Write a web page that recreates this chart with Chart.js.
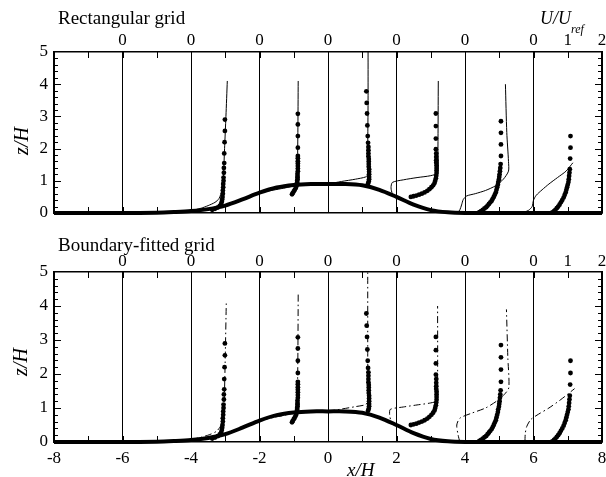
<!DOCTYPE html>
<html>
<head>
<meta charset="utf-8">
<script src="https://cdn.jsdelivr.net/npm/chart.js@4.4.1/dist/chart.umd.min.js"></script>
<style>
  body { margin: 0; background: #fff; }
  #wrap { position: relative; width: 606px; height: 477px; overflow: hidden; font-family: "Liberation Serif", serif; color: #000; }
  canvas { position: absolute; left: 0; }
  .txt { position: absolute; white-space: nowrap; line-height: 1; }
  .it { font-style: italic; }
  .rot { transform: translate(-50%, -50%) rotate(-90deg); }
</style>
</head>
<body>
<div id="wrap">
  <canvas id="rect" width="606" height="240" style="top:0"></canvas>
  <canvas id="bfg" width="606" height="237" style="top:240px"></canvas>
  <div class="txt" style="left:58px;top:8px;font-size:19px">Rectangular grid</div>
  <div class="txt" style="left:58px;top:235px;font-size:19px">Boundary-fitted grid</div>
  <div class="txt it" style="left:540px;top:9px;font-size:18px">U/U<span style="font-size:12px;position:relative;top:9px">ref</span></div>
  <div class="txt it rot" style="left:21px;top:141px;font-size:20px">z/H</div>
  <div class="txt it rot" style="left:20px;top:362px;font-size:20px">z/H</div>
  <div class="txt it" style="left:347px;top:460px;font-size:19px">x/H</div>
</div>
<script>
// profile stations (x/H) - each profile is drawn as x = station + U/Uref
const stations = [-4, -2, 0, 2, 4, 6];

// axis ticks
const xTickVals = [-8, -6, -4, -2, 0, 2, 4, 6, 8];
const uTickVals = [-6, -4, -2, 0, 2, 4, 6, 7, 8];
const uTickText = ['0', '0', '0', '0', '0', '0', '0', '1', '2'];
const zTickVals = [0, 1, 2, 3, 4, 5];

// hill surface
const hillX = [-8, -6, -5, -4.5, -4, -3.5, -3, -2.5, -2, -1.5, -1, -0.5, 0, 0.5, 1, 1.5, 2, 2.5, 3, 3.5, 4, 5, 6, 8];
const hillZ = [0, 0, 0.01, 0.03, 0.06, 0.12, 0.23, 0.42, 0.63, 0.79, 0.87, 0.9, 0.9, 0.9, 0.86, 0.72, 0.5, 0.26, 0.09, 0.02, 0, 0, 0, 0];

// measurements [U/Uref, z/H] (same in both panels)
const expM4 = [[0.62,0.10],[0.70,0.13],[0.78,0.17],[0.84,0.22],[0.88,0.28],[0.90,0.35],[0.91,0.42],[0.92,0.50],[0.93,0.60],[0.93,0.70],[0.94,0.80],[0.94,0.90],[0.95,1.00],[0.95,1.10],[0.96,1.25],[0.96,1.40],[0.97,1.55],[0.97,1.85],[0.98,2.20],[0.99,2.55],[0.99,2.90]];
const expM2 = [[0.95,0.58],[0.97,0.62],[1.00,0.67],[1.03,0.72],[1.06,0.78],[1.08,0.84],[1.09,0.90],[1.10,0.95],[1.10,1.00],[1.11,1.05],[1.11,1.10],[1.11,1.15],[1.11,1.22],[1.12,1.30],[1.12,1.38],[1.12,1.46],[1.12,1.54],[1.12,1.61],[1.12,1.70],[1.12,1.77],[1.12,2.03],[1.12,2.39],[1.12,2.75],[1.12,3.08]];
const exp0 = [[1.17,0.92],[1.19,0.98],[1.20,1.05],[1.20,1.12],[1.20,1.20],[1.20,1.28],[1.20,1.36],[1.19,1.44],[1.19,1.52],[1.19,1.60],[1.19,1.68],[1.18,1.76],[1.18,1.85],[1.18,1.95],[1.18,2.05],[1.17,2.18],[1.16,2.39],[1.15,2.72],[1.14,3.09],[1.13,3.42],[1.12,3.78]];
const exp2 = [[0.42,0.50],[0.50,0.52],[0.58,0.54],[0.66,0.57],[0.74,0.60],[0.82,0.64],[0.90,0.69],[0.96,0.74],[1.02,0.80],[1.07,0.86],[1.11,0.93],[1.13,1.00],[1.15,1.08],[1.16,1.16],[1.17,1.24],[1.17,1.32],[1.17,1.40],[1.17,1.48],[1.16,1.56],[1.16,1.64],[1.16,1.74],[1.16,1.85],[1.15,1.98],[1.15,2.31],[1.15,2.70],[1.15,3.09]];
const exp4 = [[0.42,0.03],[0.47,0.06],[0.52,0.10],[0.57,0.14],[0.62,0.18],[0.66,0.23],[0.70,0.28],[0.74,0.33],[0.78,0.38],[0.81,0.44],[0.84,0.50],[0.87,0.57],[0.90,0.64],[0.92,0.72],[0.94,0.80],[0.96,0.88],[0.97,0.96],[0.99,1.04],[1.00,1.12],[1.01,1.20],[1.02,1.30],[1.03,1.40],[1.04,1.52],[1.05,1.77],[1.05,2.13],[1.05,2.49],[1.05,2.85]];
const exp6 = [[0.55,0.02],[0.60,0.06],[0.64,0.10],[0.68,0.15],[0.72,0.20],[0.76,0.26],[0.80,0.33],[0.84,0.40],[0.88,0.48],[0.91,0.56],[0.94,0.64],[0.96,0.72],[0.98,0.80],[1.00,0.88],[1.02,0.96],[1.03,1.05],[1.04,1.15],[1.05,1.25],[1.06,1.36],[1.07,1.69],[1.08,2.03],[1.08,2.39]];

// computed, rectangular grid [U/Uref, z/H]
const rectM4 = [[0,0.07],[0.3,0.15],[0.5,0.23],[0.7,0.33],[0.82,0.45],[0.9,0.7],[0.94,1.0],[0.98,2.0],[1.02,3.0],[1.06,4.1]];
const rectM2 = [[0.05,0.64],[0.4,0.71],[0.7,0.77],[0.95,0.83],[1.05,0.9],[1.1,1.2],[1.12,2.5],[1.13,4.1]];
const rect0 = [[0,0.9],[0.4,0.98],[0.8,1.05],[1.1,1.12],[1.16,1.2],[1.16,2.0],[1.17,3.5],[1.17,5.0]];
const rect2 = [[0,0.45],[-0.12,0.6],[-0.16,0.78],[-0.12,0.95],[0.2,1.03],[0.6,1.1],[1.0,1.16],[1.2,1.25],[1.21,2.0],[1.22,4.1]];
const rect4 = [[-0.22,0.0],[-0.15,0.1],[-0.1,0.25],[-0.05,0.42],[0.05,0.53],[0.3,0.6],[0.6,0.7],[0.9,0.85],[1.12,1.05],[1.27,1.3],[1.27,1.6],[1.22,2.5],[1.18,4.0]];
const rect6 = [[-0.35,0.0],[-0.15,0.08],[-0.04,0.2],[0.0,0.4],[0.08,0.55],[0.25,0.72],[0.45,0.9],[0.7,1.1],[0.95,1.3],[1.15,1.56]];

// computed, boundary-fitted grid [U/Uref, z/H]
const bfgM4 = [[0,0.07],[0.3,0.14],[0.55,0.22],[0.75,0.32],[0.88,0.5],[0.94,0.8],[0.97,1.2],[1.0,2.5],[1.03,4.1]];
const bfgM2 = [[0.05,0.64],[0.4,0.72],[0.75,0.79],[0.95,0.85],[1.05,0.92],[1.1,1.3],[1.12,2.5],[1.13,4.4]];
const bfg0 = [[0,0.9],[0.4,0.97],[0.8,1.04],[1.1,1.1],[1.16,1.2],[1.16,2.5],[1.16,5.0]];
const bfg2 = [[0,0.45],[-0.15,0.6],[-0.2,0.8],[-0.18,0.96],[0.2,1.03],[0.6,1.09],[1.0,1.15],[1.18,1.22],[1.2,2.0],[1.2,4.0]];
const bfg4 = [[-0.15,0.0],[-0.2,0.2],[-0.24,0.5],[-0.15,0.7],[0.2,0.85],[0.6,1.0],[0.92,1.2],[1.15,1.4],[1.28,1.6],[1.25,2.5],[1.21,3.9]];
const bfg6 = [[-0.25,0.0],[-0.24,0.25],[-0.2,0.45],[-0.08,0.66],[0.15,0.82],[0.45,1.0],[0.8,1.25],[1.2,1.57]];

const expProfiles = [expM4, expM2, exp0, exp2, exp4, exp6];
const rectProfiles = [rectM4, rectM2, rect0, rect2, rect4, rect6];
const bfgProfiles = [bfgM4, bfgM2, bfg0, bfg2, bfg4, bfg6];

Chart.defaults.font.family = '"Liberation Serif", "Times New Roman", serif';
Chart.defaults.font.size = 17;
Chart.defaults.color = '#000';

// inward tick marks on all four sides
const innerTicks = {
    id: 'innerTicks',
    afterDraw(chart) {
        const { ctx, chartArea: a, scales: { x, y } } = chart;
        ctx.save();
        ctx.strokeStyle = '#000';
        ctx.lineWidth = 1;
        ctx.beginPath();
        for (let v = -7; v <= 7; v++) {
            const px = Math.round(x.getPixelForValue(v)) + 0.5;
            ctx.moveTo(px, a.bottom); ctx.lineTo(px, a.bottom - 6);
            ctx.moveTo(px, a.top); ctx.lineTo(px, a.top + 6);
        }
        for (let k = 1; k < 25; k++) {
            const py = Math.round(y.getPixelForValue(k / 5)) + 0.5;
            const len = k % 5 === 0 ? 7 : 4;
            ctx.moveTo(a.left, py); ctx.lineTo(a.left + len, py);
            ctx.moveTo(a.right, py); ctx.lineTo(a.right - len, py);
        }
        ctx.stroke();
        ctx.restore();
    }
};

// no extra room for edge labels: the "2" and "8" are cut at the page edge like the original
const noEdgePad = s => { s.paddingLeft = 0; s.paddingRight = 0; s.paddingTop = 0; s.paddingBottom = 0; };

function buildDatasets(curves, dash) {
    const sets = [{
        data: hillX.map((v, i) => ({ x: v, y: hillZ[i] })),
        showLine: true, borderColor: '#000', borderWidth: 4, pointRadius: 0,
        tension: 0.3, clip: false
    }];
    stations.forEach((s, i) => {
        sets.push({
            data: curves[i].map(p => ({ x: s + p[0], y: p[1] })),
            showLine: true, borderColor: '#000', borderWidth: 1, borderDash: dash,
            pointRadius: 0, tension: 0.25
        });
        sets.push({
            data: expProfiles[i].map(p => ({ x: s + p[0], y: p[1] })),
            showLine: false, pointRadius: 2.4, pointBackgroundColor: '#000',
            pointBorderWidth: 0, clip: false
        });
    });
    return sets;
}

function makePanel(id, curves, dash, topH, bottomH, showX, topPad) {
    const border = { color: '#000', width: 1.5 };
    new Chart(document.getElementById(id), {
        type: 'scatter',
        data: { datasets: buildDatasets(curves, dash) },
        options: {
            responsive: false,
            animation: false,
            events: [],
            layout: { padding: { left: 0, right: 3, top: 0, bottom: 0 } },
            plugins: { legend: { display: false }, tooltip: { enabled: false } },
            scales: {
                x: {
                    type: 'linear', position: 'bottom', min: -8, max: 8,
                    afterBuildTicks: s => { s.ticks = xTickVals.map(v => ({ value: v })); },
                    afterFit: s => { s.height = bottomH; noEdgePad(s); },
                    ticks: { display: showX, autoSkip: false, maxRotation: 0, padding: 6 },
                    grid: { color: '#000', lineWidth: 1, drawTicks: false },
                    border
                },
                u: {
                    type: 'linear', position: 'top', min: -8, max: 8,
                    afterBuildTicks: s => { s.ticks = uTickVals.map(v => ({ value: v })); },
                    afterFit: s => { s.height = topH; noEdgePad(s); },
                    ticks: { autoSkip: false, maxRotation: 0, padding: topPad,
                             callback: v => uTickText[uTickVals.indexOf(v)] },
                    grid: { display: false, drawTicks: false },
                    border
                },
                y: {
                    type: 'linear', position: 'left', min: 0, max: 5,
                    afterBuildTicks: s => { s.ticks = zTickVals.map(v => ({ value: v })); },
                    afterFit: s => { s.width = 54; noEdgePad(s); },
                    ticks: { padding: 6 },
                    grid: { display: false, drawTicks: false },
                    border
                },
                yr: {
                    type: 'linear', position: 'right', min: 0, max: 5,
                    afterFit: s => { s.width = 0; noEdgePad(s); },
                    ticks: { display: false },
                    grid: { display: false, drawTicks: false },
                    border
                }
            }
        },
        plugins: [innerTicks]
    });
}

makePanel('rect', rectProfiles, [], 52, 27, false, 1);
makePanel('bfg', bfgProfiles, [7, 3, 1.5, 3], 32, 35, true, 0);
</script>
</body>
</html>
